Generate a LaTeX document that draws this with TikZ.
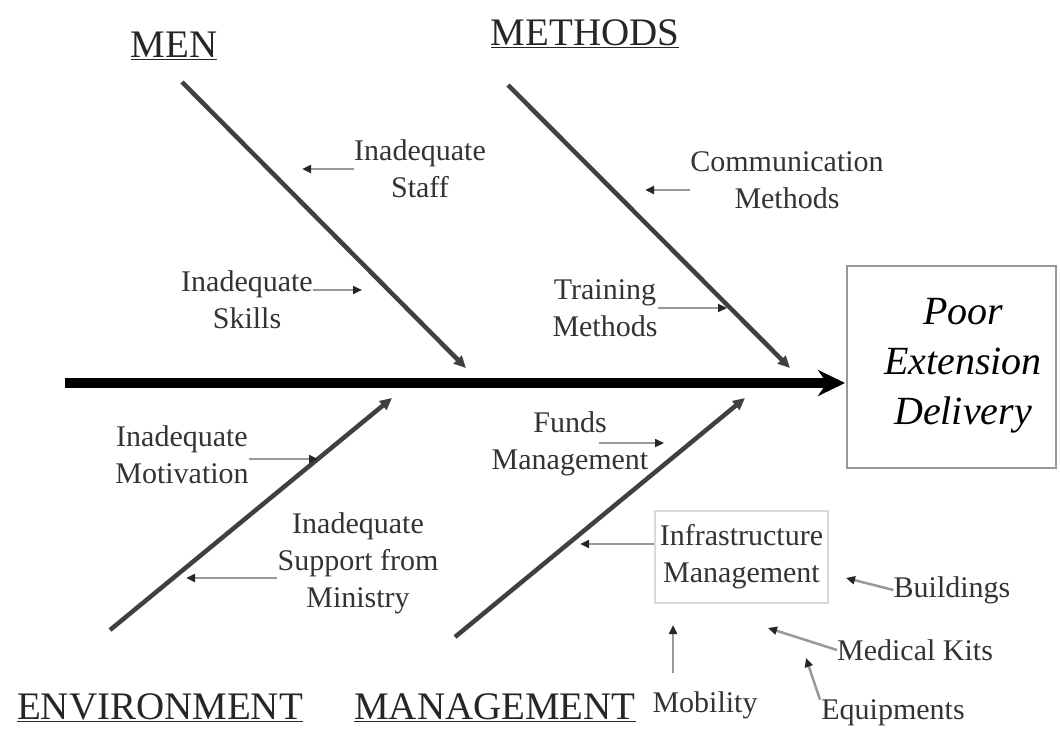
\documentclass[tikz,border=0pt]{standalone}
\usepackage{fontspec}
\setmainfont{Liberation Serif}
\usetikzlibrary{arrows.meta}
\begin{document}
\begin{tikzpicture}[x=1pt,y=-1pt,
  heading/.style={font=\fontsize{39}{44}\selectfont, text=black!85, inner sep=0pt},
  cause/.style={font=\fontsize{30}{37}\selectfont, text=black!80, align=center, inner sep=0pt},
  bone/.style={line width=4.5pt, draw=black!75, -{Triangle[length=12pt,width=11pt]}},
  conn/.style={line width=2.5pt, draw=black!40, -{Triangle[length=9pt,width=8pt,color=black!85]}},
  spine/.style={line width=10pt, draw=black, -{Stealth[length=27pt,width=26pt]}},
  effectbox/.style={draw=black!40, line width=2.5pt},
  subbox/.style={draw=black!15, line width=2.5pt},
]
\useasboundingbox (0,0) rectangle (1060,735);

% category headings
\node[heading] (men)     at (174,46)  {\underline{MEN}};
\node[heading] (methods) at (585,34)  {\underline{METHODS}};
\node[heading] (env)     at (160,708) {\underline{ENVIRONMENT}};
\node[heading] (mgmt)    at (495,708) {\underline{MANAGEMENT}};

% effect
\node[effectbox, minimum width=209pt, minimum height=202pt] (effect) at (951.5,367) {};
\node[font=\fontsize{40}{50}\selectfont\itshape, align=center, inner sep=0pt] (efftext) at (963,366) {Poor\\Extension\\Delivery};

% spine
\coordinate (head) at (65,383);
\coordinate (tip)  at (845,383);
\draw[spine] (head) -- (tip);

% main bones
\coordinate (menA) at (182,82);   \coordinate (menB) at (466,368);
\coordinate (metA) at (508,85);   \coordinate (metB) at (790,368);
\coordinate (envA) at (110,630);  \coordinate (envB) at (392,398);
\coordinate (mgtA) at (455,637);  \coordinate (mgtB) at (745,398);
\draw[bone] (menA) -- (menB);
\draw[bone] (metA) -- (metB);
\draw[bone] (envA) -- (envB);
\draw[bone] (mgtA) -- (mgtB);

% causes
\node[cause] (staff)  at (420,169) {Inadequate\\Staff};
\node[cause] (skills) at (247,300) {Inadequate\\Skills};
\node[cause] (comm)   at (787,180) {Communication\\Methods};
\node[cause] (train)  at (605,308) {Training\\Methods};
\node[cause] (motiv)  at (182,455) {Inadequate\\Motivation};
\node[cause] (minis)  at (358,563) {Inadequate\\Support from\\Ministry};
\node[cause] (funds)  at (570,444) {Funds\\Management};
\node[cause, subbox, minimum width=173pt, minimum height=92pt] (infra) at (741.5,557) {Infrastructure\\Management};
\node[cause] (build)  at (952,590) {Buildings};
\node[cause] (medk)   at (915,650) {Medical Kits};
\node[cause] (equip)  at (893,713) {Equipments};
\node[cause] (mobil)  at (705,705) {Mobility};

% arrow tips of the cause connectors
\coordinate (tStaff)  at (302,169);
\coordinate (tSkills) at (362,290);
\coordinate (tComm)   at (645,190);
\coordinate (tTrain)  at (727,308);
\coordinate (tMotiv)  at (318,459);
\coordinate (tMinis)  at (186,578);
\coordinate (tFunds)  at (664,443);
\coordinate (tInfra)  at (580,544);
\coordinate (tBuild)  at (846,578);
\coordinate (tMedk)   at (768,628);
\coordinate (tEquip)  at (806,658);
\coordinate (tMobil)  at (673,625);

\draw[conn] (staff.west) -- (tStaff);
\draw[conn] ([yshift=10pt]skills.east) -- (tSkills);
\draw[conn] ([yshift=-10pt]comm.west) -- (tComm);
\draw[conn] (train.east) -- (tTrain);
\draw[conn] ([yshift=-4pt]motiv.east) -- (tMotiv);
\draw[conn] ([yshift=-15pt]minis.west) -- (tMinis);
\draw[conn] ([xshift=-50pt,yshift=1pt]funds.east) -- (tFunds);
\draw[conn] ([yshift=13pt]infra.west) -- (tInfra);
\draw[conn] (build.west) -- (tBuild);
\draw[conn] (medk.west) -- (tMedk);
\draw[conn] ([xshift=-73pt]equip.north) -- (tEquip);
\draw[conn] ([xshift=-32pt,yshift=18pt]mobil.north) -- (tMobil);
\end{tikzpicture}
\end{document}
